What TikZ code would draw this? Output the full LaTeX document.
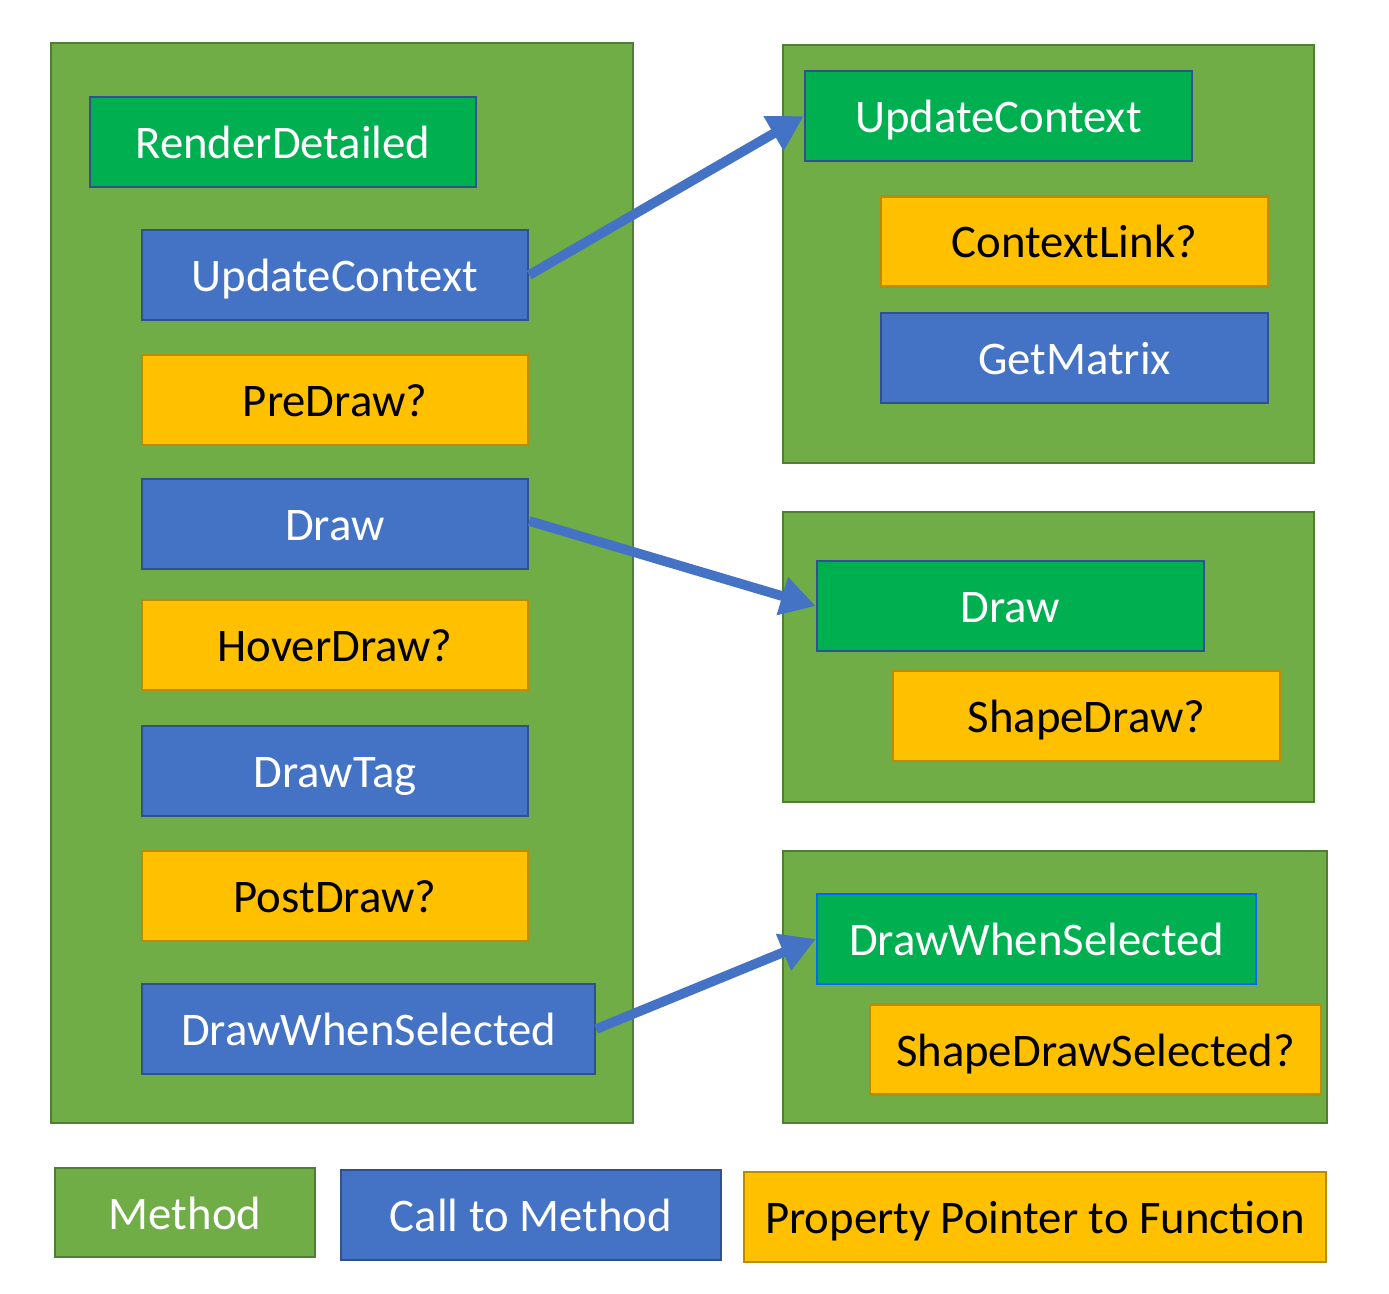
\documentclass[tikz,border=0pt]{standalone}
\usepackage{fontspec}
\setmainfont{Carlito}
\usetikzlibrary{arrows.meta}
\definecolor{methodgreen}{HTML}{70AD47}
\definecolor{methodline}{HTML}{507E32}
\definecolor{headgreen}{HTML}{00B050}
\definecolor{callblue}{HTML}{4472C4}
\definecolor{callline}{HTML}{2F528F}
\definecolor{propyellow}{HTML}{FFC000}
\definecolor{propline}{HTML}{BC8C00}
\begin{document}
\begin{tikzpicture}[x=0.02cm,y=-0.02cm,
	box/.style={draw, line width=1.4pt, inner sep=0pt, minimum height=1.8cm, text height=0.8cm, text depth=0.14cm, font=\fontsize{26.6}{30}\selectfont},
	head/.style={box, fill=headgreen, draw=callline, text=white},
	call/.style={box, fill=callblue, draw=callline, text=white},
	prop/.style={box, fill=propyellow, draw=propline, text=black},
	panel/.style={fill=methodgreen, draw=methodline, line width=1.6pt},
	calls/.style={draw=callblue, line width=5.5pt, -{Triangle[length=0.7cm,width=0.75cm]}}]
		\useasboundingbox (0,0) rectangle (1389,1294);
		\draw[panel] (51,43) rectangle (633,1123);
		\draw[panel] (783,45) rectangle (1314,463);
		\draw[panel] (783,512) rectangle (1314,802);
		\draw[panel] (783,851) rectangle (1327,1123);
		% left method
		\node (render) [head, minimum width=7.72cm] at (283,142) {RenderDetailed};
		\node (cUpdate) [call, minimum width=7.72cm] at (335,275) {UpdateContext};
		\node (pPre) [prop, minimum width=7.72cm] at (335,400) {PreDraw?};
		\node (cDraw) [call, minimum width=7.72cm] at (335,524) {Draw};
		\node (pHover) [prop, minimum width=7.72cm] at (335,645) {HoverDraw?};
		\node (cTag) [call, minimum width=7.72cm] at (335,771) {DrawTag};
		\node (pPost) [prop, minimum width=7.72cm] at (335,896) {PostDraw?};
		\node (cSel) [call, minimum width=9.06cm] at (368.5,1029) {DrawWhenSelected};
		% right methods
		\node (mUpdate) [head, minimum width=7.74cm] at (998.5,116) {UpdateContext};
		\node (pLink) [prop, minimum width=7.74cm] at (1074.5,241.5) {ContextLink?};
		\node (cMatrix) [call, minimum width=7.74cm] at (1074.5,358) {GetMatrix};
		\node (mDraw) [head, minimum width=7.74cm] at (1010.5,606) {Draw};
		\node (pShape) [prop, minimum width=7.74cm] at (1086.5,716) {ShapeDraw?};
		\node (mSel) [head, draw=blue!60!cyan, minimum width=8.78cm] at (1036.5,939) {DrawWhenSelected};
		\node (pShapeSel) [prop, minimum width=9.02cm] at (1095.5,1049.5) {ShapeDrawSelected?};
		% legend
		\node (lMethod) [box, fill=methodgreen, draw=methodline, text=white, minimum width=5.2cm, minimum height=1.78cm] at (185,1212.5) {Method};
		\node (lCall) [call, minimum width=7.6cm] at (531,1215) {Call to Method};
		\node (lProp) [prop, minimum width=11.64cm] at (1035,1217) {Property Pointer to Function};
		\draw[calls] (cUpdate.east) -- (mUpdate.west);
		\draw[calls] ([yshift=0.06cm]cDraw.east) -- (mDraw.west);
		\draw[calls] (cSel.east) -- (mSel.west);
\end{tikzpicture}
\end{document}
